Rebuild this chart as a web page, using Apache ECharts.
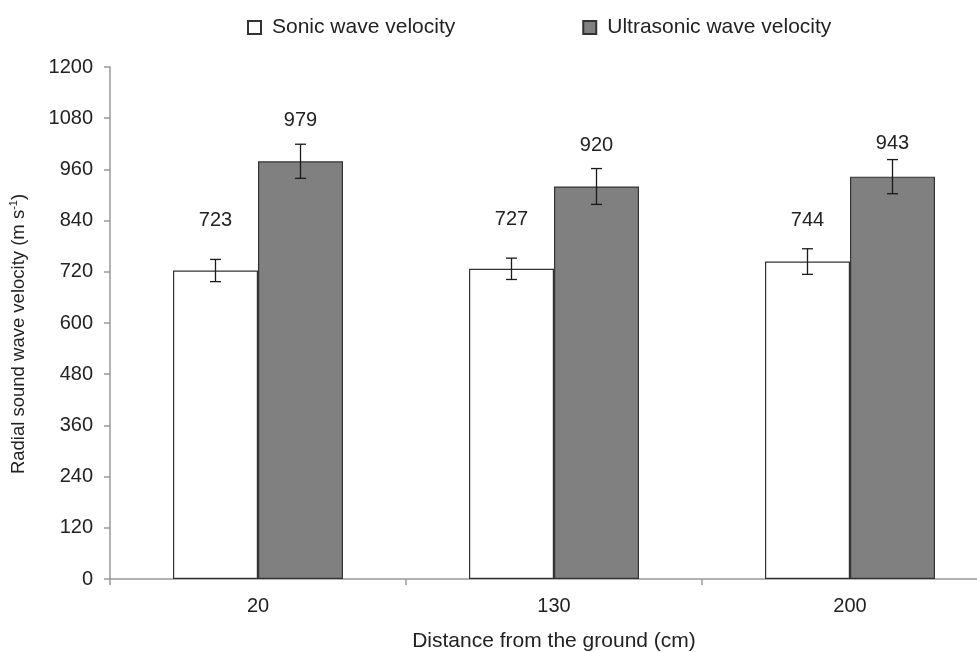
<!DOCTYPE html>
<html>
<head>
<meta charset="utf-8">
<script src="https://cdn.jsdelivr.net/npm/echarts@6/dist/echarts.min.js"></script>
<style>
html,body{margin:0;padding:0;background:#fff;}
#chart{width:977px;height:652px;}
</style>
</head>
<body>
<div id="chart"></div>
<script>
const categories = ['20', '130', '200'];
const sonicValues = [723, 727, 744];
const sonicErrors = [26, 25, 30];
const ultrasonicValues = [979, 920, 943];
const ultrasonicErrors = [40, 42, 40];
const yTicks = [0, 120, 240, 360, 480, 600, 720, 840, 960, 1080, 1200];
const sonicLabelDistance = [40, 39, 31];
const ultraLabelDistance = [31, 31, 23];

const FONT = 'Liberation Sans, Arial, sans-serif';
const BAR_W = 85;
const chart = echarts.init(document.getElementById('chart'), null, {renderer: 'canvas'});

function errSeries(name, values, errors, offset) {
  return {
    name: name + ' err',
    type: 'custom',
    silent: true,
    z: 5,
    data: values.map((v, i) => [i, v, errors[i]]),
    renderItem: function (params, api) {
      const c = api.value(0), v = api.value(1), e = api.value(2);
      const hi = api.coord([c, v + e]);
      const lo = api.coord([c, v - e]);
      const x = hi[0] + offset;
      const hw = 5.5;
      const st = {stroke: '#1a1a1a', lineWidth: 1.3};
      return {
        type: 'group',
        children: [
          {type: 'line', shape: {x1: x, y1: hi[1], x2: x, y2: lo[1]}, style: st},
          {type: 'line', shape: {x1: x - hw, y1: hi[1], x2: x + hw, y2: hi[1]}, style: st},
          {type: 'line', shape: {x1: x - hw, y1: lo[1], x2: x + hw, y2: lo[1]}, style: st}
        ]
      };
    }
  };
}

const option = {
  backgroundColor: '#fff',
  animation: false,
  textStyle: {fontFamily: FONT},
  legend: {
    top: 12,
    left: 242,
    itemGap: 127,
    itemWidth: 13,
    itemHeight: 13,
    icon: 'rect',
    textStyle: {fontSize: 21, color: '#222', fontFamily: FONT, padding: [0, 0, 0, 6]},
    data: ['Sonic wave velocity', 'Ultrasonic wave velocity']
  },
  grid: {left: 110, top: 67, width: 888, bottom: 73, containLabel: false, outerBoundsMode: 'none'},
  xAxis: {
    type: 'category',
    data: categories,
    name: 'Distance from the ground (cm)',
    nameLocation: 'middle',
    nameGap: 52,
    nameTextStyle: {fontSize: 21, color: '#222', fontFamily: FONT},
    axisLine: {lineStyle: {color: '#999', width: 1.5}},
    axisTick: {show: true, alignWithLabel: false, length: 6, lineStyle: {color: '#999', width: 1.5}},
    axisLabel: {fontSize: 20, color: '#222', margin: 17, fontFamily: FONT}
  },
  yAxis: {
    type: 'value',
    min: yTicks[0],
    max: yTicks[yTicks.length - 1],
    interval: yTicks[1] - yTicks[0],
    name: '{a|Radial sound wave velocity (m s}{s|-1}{a|)}',
    nameLocation: 'middle',
    nameGap: 80,
    nameRotate: 90,
    nameTextStyle: {
      padding: [0, 22, 0, 0],
      rich: {
        a: {fontSize: 18.5, color: '#222', fontFamily: FONT, lineHeight: 22},
        s: {fontSize: 11, color: '#222', fontFamily: FONT, verticalAlign: 'top', lineHeight: 22, padding: [0, 0, 10, 0]}
      }
    },
    splitLine: {show: false},
    axisLine: {show: true, lineStyle: {color: '#999', width: 1.5}},
    axisTick: {show: true, length: 6, lineStyle: {color: '#999', width: 1.5}},
    axisLabel: {fontSize: 20, color: '#222', margin: 17, fontFamily: FONT, formatter: v => String(v)}
  },
  series: [
    {
      name: 'Sonic wave velocity',
      type: 'bar',
      barWidth: BAR_W,
      barGap: '0%',
      itemStyle: {color: '#ffffff', borderColor: '#333', borderWidth: 1.2},
      data: sonicValues.map((v, i) => ({
        value: v,
        label: {distance: sonicLabelDistance[i]}
      })),
      label: {show: true, position: 'top', fontSize: 20, color: '#222', fontFamily: FONT}
    },
    {
      name: 'Ultrasonic wave velocity',
      type: 'bar',
      barWidth: BAR_W,
      barGap: '0%',
      itemStyle: {color: '#808080', borderColor: '#333', borderWidth: 1.2},
      data: ultrasonicValues.map((v, i) => ({
        value: v,
        label: {distance: ultraLabelDistance[i]}
      })),
      label: {show: true, position: 'top', fontSize: 20, color: '#222', fontFamily: FONT}
    },
    errSeries('Sonic wave velocity', sonicValues, sonicErrors, -BAR_W / 2),
    errSeries('Ultrasonic wave velocity', ultrasonicValues, ultrasonicErrors, BAR_W / 2)
  ]
};
chart.setOption(option);
</script>
</body>
</html>
